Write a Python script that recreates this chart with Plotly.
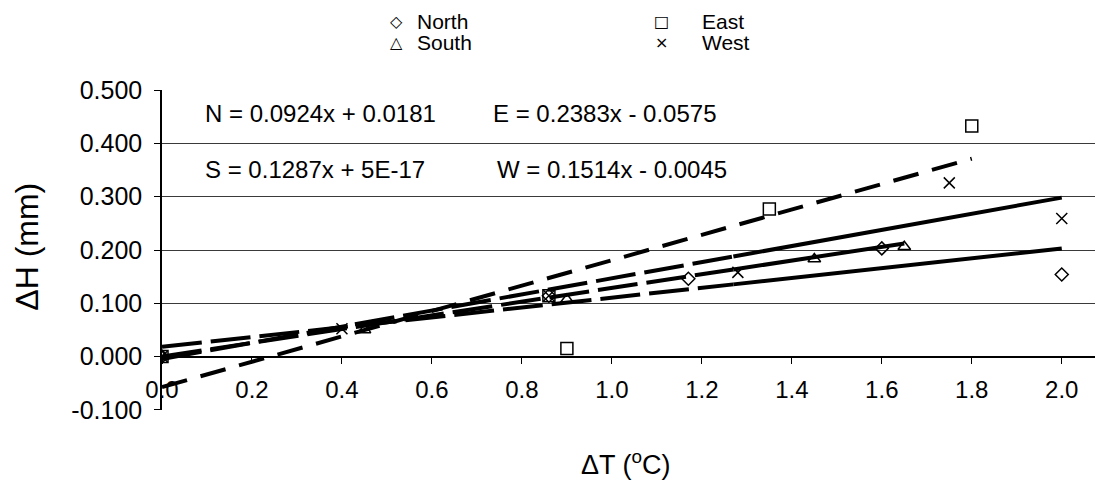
import plotly.graph_objects as go

# ---------------- data ----------------
series_names = ["North", "South", "East", "West"]

north_x = [0.0, 0.86, 1.17, 1.60, 2.00]
north_y = [0.000, 0.114, 0.146, 0.203, 0.154]

south_x = [0.0, 0.45, 0.90, 1.45, 1.65]
south_y = [0.000, 0.050, 0.107, 0.183, 0.206]

east_x = [0.0, 0.86, 0.90, 1.35, 1.80]
east_y = [0.000, 0.114, 0.015, 0.277, 0.433]

west_x = [0.0, 0.40, 0.86, 1.28, 1.75, 2.00]
west_y = [0.000, 0.052, 0.114, 0.158, 0.326, 0.259]

fit_slopes = [0.0924, 0.1287, 0.2383, 0.1514]
fit_intercepts = [0.0181, 5e-17, -0.0575, -0.0045]
fit_labels = ["N = 0.0924x + 0.0181", "S = 0.1287x + 5E-17",
              "E = 0.2383x - 0.0575", "W = 0.1514x - 0.0045"]

x_ticks = [0.0, 0.2, 0.4, 0.6, 0.8, 1.0, 1.2, 1.4, 1.6, 1.8, 2.0]
y_ticks = [-0.1, 0.0, 0.1, 0.2, 0.3, 0.4, 0.5]

# ---------------- styles ----------------
FONT = "Liberation Sans, Arial, sans-serif"
symbols = {"North": "diamond-open", "South": "triangle-up-open",
           "East": "square-open", "West": "x-thin-open"}
sizes = {"North": 10, "South": 11, "East": 12, "West": 11}
legend_glyph = {"North": "\u25C7", "South": "\u25B3", "East": "\u25A1", "West": "\u00D7"}
dash_break = 1.27          # trend lines appear dashed left of this, solid right of it
all_dashed = {"East"}

xs = [north_x, south_x, east_x, west_x]
ys = [north_y, south_y, east_y, west_y]

X_RANGE = [0, 2.085]
Y_RANGE = [-0.1004, 0.5004]

fig = go.Figure()

# trend lines
for name, sx, m, b in zip(series_names, xs, fit_slopes, fit_intercepts):
    x0, x1 = min(sx), max(sx)
    if name in all_dashed or x1 <= dash_break:
        segs = [((x0, x1), "26px,14px" if name in all_dashed else "40px,9px")]
    else:
        segs = [((x0, dash_break), "40px,9px"), ((dash_break, x1), "solid")]
    for (a, c), dash in segs:
        fig.add_trace(go.Scatter(
            x=[a, c], y=[m * a + b, m * c + b], mode="lines",
            line=dict(color="black", width=4, dash=dash),
            showlegend=False, hoverinfo="skip"))

# data markers
for name, sx, sy in zip(series_names, xs, ys):
    fig.add_trace(go.Scatter(
        x=sx, y=sy, mode="markers", name=name,
        marker=dict(symbol=symbols[name], size=sizes[name], color="black",
                    line=dict(color="black", width=1.5)),
        showlegend=False))

annotations = []
# equations (centre positions in data units)
eq_pos = {"N": (0.352, 0.4556), "S": (0.340, 0.3506),
          "E": (0.985, 0.4556), "W": (1.000, 0.3506)}
for lab in fit_labels:
    px, py = eq_pos[lab[0]]
    annotations.append(dict(x=px, y=py, xref="x", yref="y", text=lab, showarrow=False,
                            xanchor="center", yanchor="middle",
                            font=dict(family=FONT, size=24, color="black")))

# legend drawn as text (two columns)
leg_cols = {"North": (0.2505, 0.2697, 1.214), "South": (0.2505, 0.2697, 1.149),
            "East": (0.532, 0.5736, 1.214), "West": (0.532, 0.5736, 1.149)}
for name in series_names:
    sxp, txp, yp = leg_cols[name]
    annotations.append(dict(x=sxp, y=yp, xref="paper", yref="paper", text=legend_glyph[name],
                            showarrow=False, xanchor="center", yanchor="middle",
                            font=dict(family="DejaVu Sans", size=16, color="black")))
    annotations.append(dict(x=txp, y=yp, xref="paper", yref="paper", text=name,
                            showarrow=False, xanchor="left", yanchor="middle",
                            font=dict(family=FONT, size=21, color="black")))

# axis titles
annotations.append(dict(x=-0.144, y=0.51, xref="paper", yref="paper", text="\u0394H (mm)",
                        textangle=-90, showarrow=False, xanchor="center", yanchor="middle",
                        font=dict(family=FONT, size=32, color="black")))
annotations.append(dict(x=0.495, y=-0.165, xref="paper", yref="paper",
                        text="\u0394T (<sup>o</sup>C)", showarrow=False,
                        xanchor="center", yanchor="middle",
                        font=dict(family=FONT, size=27, color="black")))

zero_pos = (0 - Y_RANGE[0]) / (Y_RANGE[1] - Y_RANGE[0])

fig.update_layout(
    width=1095, height=479,
    margin=dict(l=154, r=3, t=82, b=77),
    paper_bgcolor="white", plot_bgcolor="white",
    showlegend=False,
    annotations=annotations,
    xaxis=dict(range=X_RANGE, tickvals=x_ticks, ticktext=[f"{v:.1f}" for v in x_ticks],
               anchor="free", position=zero_pos,
               showline=True, linecolor="black", linewidth=2,
               ticks="outside", ticklen=6, tickcolor="black", tickwidth=1,
               ticklabelstandoff=6,
               showgrid=False, zeroline=False,
               tickfont=dict(family=FONT, size=24, color="black")),
    yaxis=dict(range=Y_RANGE, tickvals=y_ticks, ticktext=[f"{v:.3f}" for v in y_ticks],
               showline=True, linecolor="black", linewidth=1.5,
               ticks="outside", ticklen=6, tickcolor="black", tickwidth=1,
               ticklabelstandoff=7,
               showgrid=True, gridcolor="#3a3a3a", gridwidth=1, zeroline=False,
               tickfont=dict(family=FONT, size=25, color="black")),
)

fig.write_html("out.html")
